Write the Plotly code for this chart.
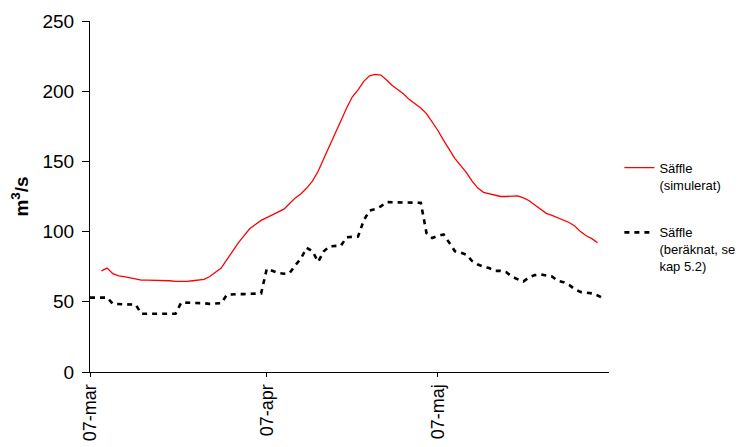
import datetime as dt
import plotly.graph_objects as go

start = dt.date(2006, 3, 7)

# Säffle (simulerat) – daily values from day 2 to day 89 after 07-mar
sim_start_day = 2
sim_values = [
    72, 74, 70, 68.5, 68, 67, 66, 65.5, 65.5, 65.5, 65.5, 65.5, 65, 64.5, 64.3, 64.5,
    65, 65.5, 66, 68, 71, 74, 80, 86, 92, 97, 102, 105, 108, 110, 112, 114, 116, 120,
    124, 127, 131, 136, 143, 152, 161, 170, 180, 188, 196, 201, 207, 211, 212, 211.5,
    208, 204, 201, 198, 194, 191, 188, 184, 178, 172, 165, 158, 152, 147, 142, 136,
    131, 128, 127, 125.5, 125, 125, 125, 125.5, 124, 122, 119, 116, 113, 111.5, 110,
    108, 106.5, 104, 100, 97, 95, 92,
]

# Säffle (beräknat, se kap 5.2) – daily values from day 0 to day 90
calc_start_day = 0
calc_values = [
    53, 53, 53, 53, 48.5, 48.5, 48.5, 48.5, 48, 41.5, 41.5, 41.5, 41.5, 41, 41, 41.5,
    49.5, 49.5, 49.5, 49, 49, 48.5, 48.5, 49, 55, 55.5, 55.5, 55.5, 55.5, 55.5, 56,
    73.5, 72, 70.5, 70, 70.5, 76, 81, 88.5, 86, 78.5, 86, 89.5, 89.5, 90, 96, 96, 96.5,
    108, 115, 116, 118, 121, 121, 121, 121, 121, 121, 120.5, 99, 95.5, 97, 98, 92, 86,
    85, 83.5, 79, 76.5, 75, 74, 72, 72, 71, 68, 66, 64.5, 67.5, 69, 69.5, 69, 68, 65,
    64, 62, 59, 57, 56.5, 56, 54.5, 52.5,
]

tick_dates = ["2006-03-07", "2006-04-07", "2006-05-07"]
tick_labels = ["07-mar", "07-apr", "07-maj"]
y_ticks = [0, 50, 100, 150, 200, 250]
x_range = ["2006-03-07", "2006-06-06"]

sim_dates = [start + dt.timedelta(days=sim_start_day + i) for i in range(len(sim_values))]
calc_dates = [start + dt.timedelta(days=calc_start_day + i) for i in range(len(calc_values))]

FONT = "Liberation Sans, Arial, sans-serif"

fig = go.Figure()
fig.add_trace(go.Scatter(
    x=sim_dates, y=sim_values, mode="lines",
    name="Säffle<br>(simulerat)", legendgroup="a",
    line=dict(color="#FF0000", width=1.3),
))
fig.add_trace(go.Scatter(
    x=calc_dates, y=calc_values, mode="lines",
    name="Säffle<br>(beräknat, se<br>kap 5.2)", legendgroup="b",
    line=dict(color="#000000", width=2.6, dash="5px,5px"),
))

fig.update_layout(
    width=745, height=447,
    margin=dict(l=90, r=135.5, t=21, b=75, pad=0, autoexpand=False),
    paper_bgcolor="white", plot_bgcolor="white",
    font=dict(family=FONT, color="#000000"),
    showlegend=True,
    legend=dict(
        x=1.02, xanchor="left", y=0.625, yanchor="top",
        font=dict(size=13, family=FONT, color="#000000"),
        valign="top", tracegroupgap=28, bgcolor="rgba(0,0,0,0)",
    ),
    xaxis=dict(
        type="date", range=x_range, automargin=False,
        tickmode="array", tickvals=tick_dates, ticktext=tick_labels,
        tickangle=-90, tickfont=dict(size=18, family=FONT),
        ticks="outside", ticklen=4, tickcolor="#000000", ticklabelstandoff=0,
        showline=True, linecolor="#000000", linewidth=1,
        showgrid=False, zeroline=False,
    ),
    yaxis=dict(
        range=[0, 250], tickmode="array", tickvals=y_ticks, automargin=False,
        tickfont=dict(size=19, family=FONT),
        ticks="outside", ticklen=7, tickcolor="#000000", ticklabelstandoff=4,
        showline=True, linecolor="#000000", linewidth=1,
        showgrid=False, zeroline=False,
        title=dict(text="<b>m<sup>3</sup>/s</b>", font=dict(size=19, family=FONT), standoff=8),
    ),
)

fig.write_html("out.html")
